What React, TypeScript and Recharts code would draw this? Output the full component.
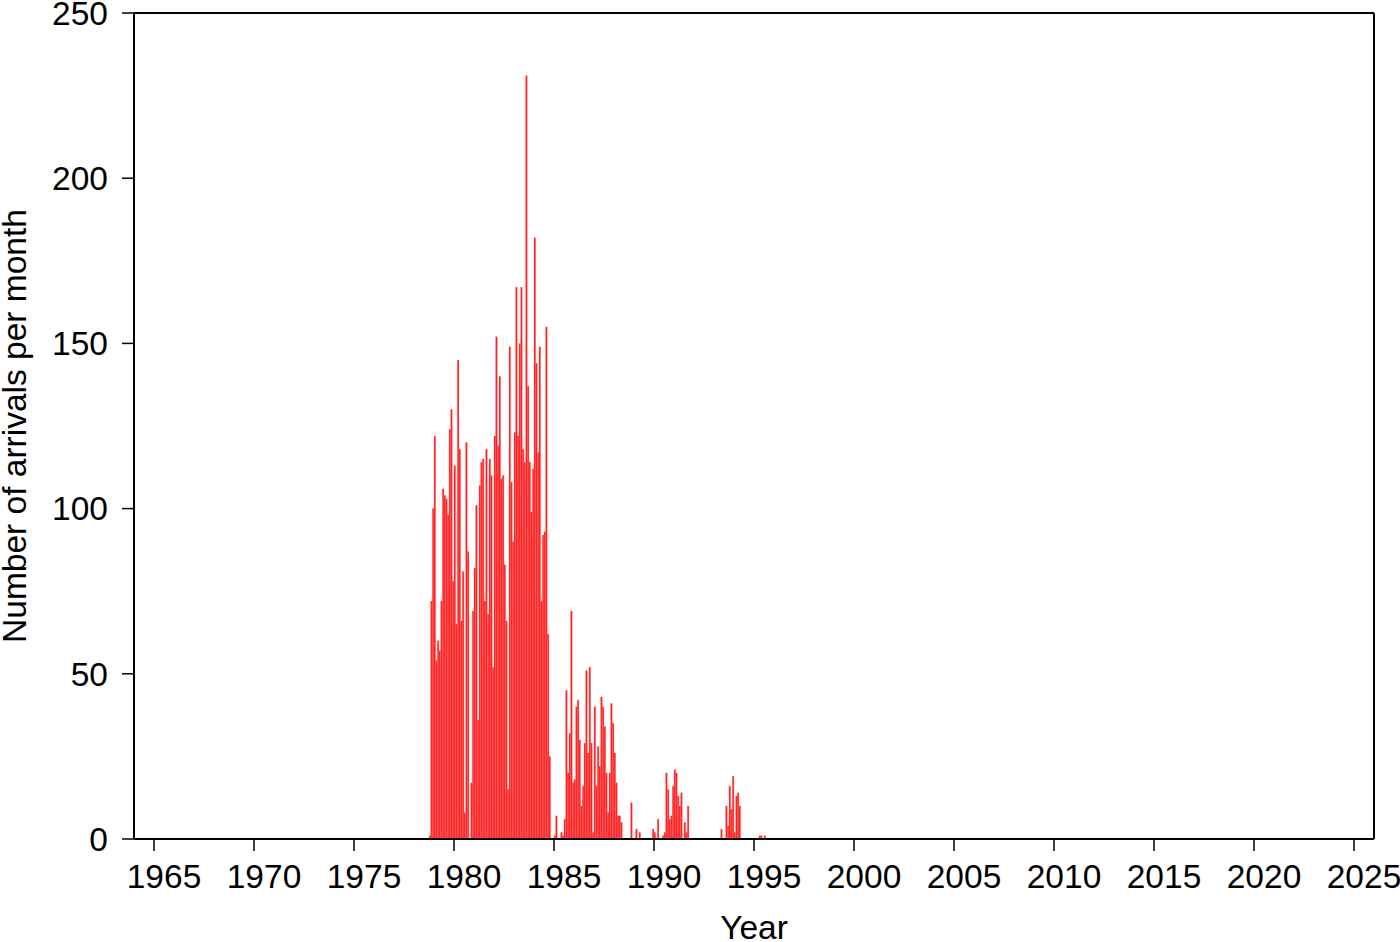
import React from 'react';
import { BarChart, Bar, XAxis, YAxis, Label } from 'recharts';

// monthly arrival counts, first entry is Oct 1978
const firstYear = 1978;
const firstMonth = 9; // 0-based, October
const monthlyArrivals = [
  1, 72, 100,
  122, 54, 60, 57, 72, 106, 104, 103, 98, 124, 130, 78,
  113, 65, 145, 118, 66, 81, 8, 120, 87, 0, 17, 69,
  82, 101, 36, 107, 114, 115, 72, 118, 68, 115, 110, 52,
  122, 152, 119, 140, 109, 110, 83, 66, 15, 149, 108, 90,
  123, 167, 122, 150, 167, 118, 114, 231, 137, 114, 99, 112,
  182, 144, 117, 149, 72, 92, 93, 155, 62, 25, 0, 0,
  1, 7, 0, 0, 2, 1, 6, 45, 20, 32, 69, 17,
  18, 40, 42, 30, 10, 16, 29, 51, 26, 52, 29, 2,
  40, 16, 28, 22, 43, 40, 34, 20, 8, 20, 41, 35,
  26, 17, 7, 7, 5, 0, 0, 0, 0, 0, 11, 0,
  0, 3, 0, 2, 0, 0, 0, 0, 0, 0, 0, 3,
  2, 0, 6, 0, 0, 1, 2, 20, 15, 6, 7, 16,
  21, 20, 13, 10, 14, 0, 5, 2, 10, 0, 0, 0,
  0, 0, 0, 0, 0, 0, 0, 0, 0, 0, 0, 0,
  0, 0, 0, 0, 3, 0, 0, 10, 4, 16, 9, 19,
  2, 13, 14, 10, 0, 0, 0, 0, 0, 0, 0, 0,
  0, 0, 0, 1, 1, 0, 1,
];

const yearTicks = [1965, 1970, 1975, 1980, 1985, 1990, 1995, 2000, 2005, 2010, 2015, 2020, 2025];
const countTicks = [0, 50, 100, 150, 200, 250];

const data = monthlyArrivals.map((count, i) => ({
  // bar centred in the middle of its month
  t: firstYear + (firstMonth + i + 0.5) / 12,
  count,
}));

const FONT = '"Liberation Sans", Arial, Helvetica, sans-serif';
const FS = 33.5;
const tickStyle = { fontSize: FS, fill: '#000', fontFamily: FONT };
const tickLine = { stroke: '#000', strokeWidth: 1.5 };
const axisLine = { stroke: '#000', strokeWidth: 2 };

// year labels sit a little right of their tick in the original
const YearTick = (props: any) => {
  const { x, y, payload } = props;
  return (
    <text x={x + 10} y={y} dy="0.71em" textAnchor="middle" fontSize={FS} fontFamily={FONT} fill="#000">
      {payload.value}
    </text>
  );
};

export default function App() {
  return (
    <div style={{ position: 'absolute', left: 0, top: 0, width: 1400, height: 942, background: '#fff' }}>
      <BarChart
        width={1400}
        height={942}
        data={data}
        margin={{ top: 0, right: 0, bottom: 0, left: 0 }}
        barGap={0}
      >
        <XAxis
          xAxisId="bottom"
          dataKey="t"
          type="number"
          domain={[1964, 2026]}
          ticks={yearTicks}
          interval={0}
          height={103}
          tickSize={12}
          tickMargin={13}
          tick={<YearTick />}
          tickLine={tickLine}
          axisLine={axisLine}
        >
          <Label
            content={(props: any) => {
              const vb = props.viewBox;
              return (
                <text x={vb.x + vb.width / 2} y={vb.y + 100} textAnchor="middle" fontSize={FS} fontFamily={FONT} fill="#000">
                  Year
                </text>
              );
            }}
          />
        </XAxis>
        <XAxis
          xAxisId="top"
          orientation="top"
          dataKey="t"
          type="number"
          domain={[1964, 2026]}
          ticks={yearTicks}
          interval={0}
          height={13}
          tickSize={12}
          tick={false}
          tickLine={tickLine}
          axisLine={axisLine}
        />
        <YAxis
          yAxisId="left"
          type="number"
          domain={[0, 250]}
          ticks={countTicks}
          interval={0}
          width={134}
          tickSize={12}
          tickMargin={14}
          tick={tickStyle}
          tickLine={tickLine}
          axisLine={axisLine}
        >
          <Label
            content={(props: any) => {
              const vb = props.viewBox;
              const x = vb.x + 26;
              const y = vb.y + vb.height / 2;
              return (
                <text x={x} y={y} transform={`rotate(-90 ${x} ${y})`} textAnchor="middle" fontSize={FS} fontFamily={FONT} fill="#000">
                  Number of arrivals per month
                </text>
              );
            }}
          />
        </YAxis>
        <YAxis
          yAxisId="right"
          orientation="right"
          type="number"
          domain={[0, 250]}
          ticks={countTicks}
          interval={0}
          width={26}
          tickSize={12}
          tick={false}
          tickLine={tickLine}
          axisLine={axisLine}
        />
        <Bar
          xAxisId="bottom"
          yAxisId="left"
          dataKey="count"
          fill="#ff1f1f"
          stroke="#ff5a5a"
          strokeWidth={0.3}
          barSize={1.6}
          isAnimationActive={false}
        />
      </BarChart>
    </div>
  );
}
